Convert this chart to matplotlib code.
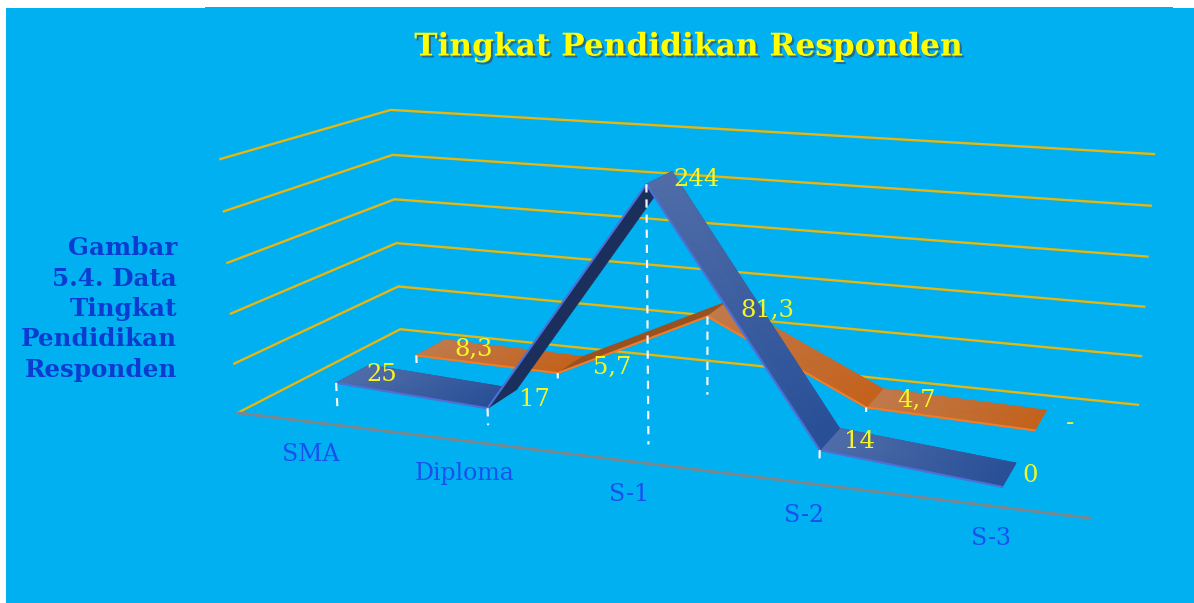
#!/usr/bin/env python3
"""Perspective ribbon chart of respondents by education level."""

import matplotlib
matplotlib.use("Agg")
import matplotlib.patheffects as pe
import matplotlib.pyplot as plt
import numpy as np
from matplotlib.colors import LinearSegmentedColormap
from matplotlib.patches import Polygon, Rectangle

W, H = 1194, 603

categories = ["SMA", "Diploma", "S-1", "S-2", "S-3"]
counts = [25, 17, 244, 14, 0]
count_labels = ["25", "17", "244", "14", "0"]
percents = [8.3, 5.7, 81.3, 4.7, 0]
percent_labels = ["8,3", "5,7", "81,3", "4,7", "-"]
grid_levels = [0, 50, 100, 150, 200, 250]

BG = "#00b0f0"
GRID = "#e8b60f"
YELLOW = "#f6f627"
BLUE_TEXT = "#0b3bd0"
CAT_TEXT = "#1a50f0"

# box corners (category, depth, value) and where they land on the canvas
CAMERA_WORLD = [(0, 0, 0), (0, 1, 0), (5, 1, 0), (5, 0, 0), (0, 0, 250), (0, 1, 250), (5, 1, 250)]
CAMERA_PIXEL = [(238, 413), (400, 329), (1138, 405), (1090, 518), (220, 159), (391, 110), (1154, 154)]


def fit_camera(world, pixel):
    rows = []
    for (x, y, z), (u, v) in zip(world, pixel):
        rows.append([x, y, z, 1, 0, 0, 0, 0, -u * x, -u * y, -u * z, -u])
        rows.append([0, 0, 0, 0, x, y, z, 1, -v * x, -v * y, -v * z, -v])
    _, _, vt = np.linalg.svd(np.array(rows, dtype=float))
    return vt[-1].reshape(3, 4)


CAM = fit_camera(CAMERA_WORLD, CAMERA_PIXEL)


def project(x, y, z):
    u, v, w = CAM @ np.array([x, y, z, 1.0])
    return u / w, v / w


def draw_ribbon(ax, values, labels, depth, light, dark, under, edge, offsets, z):
    cmap = LinearSegmentedColormap.from_list("ribbon", [light, dark])
    n = len(values)
    # the steep segment goes last so it covers its neighbours
    order = sorted(range(n - 1), key=lambda i: abs(values[i + 1] - values[i]))
    for i in order:
        f0 = project(i + 0.5, depth[0], values[i])
        f1 = project(i + 1.5, depth[0], values[i + 1])
        b0 = project(i + 0.5, depth[1], values[i])
        b1 = project(i + 1.5, depth[1], values[i + 1])
        quad = [f0, f1, b1, b0]
        if values[i + 1] > values[i]:
            ax.add_patch(Polygon(quad, closed=True, fc=under, ec=under, lw=0.5, zorder=z))
        else:
            xx = np.array([[f0[0], f1[0]], [b0[0], b1[0]]])
            yy = np.array([[f0[1], f1[1]], [b0[1], b1[1]]])
            cc = np.array([[0.0, 1.0], [0.0, 1.0]])
            ax.add_patch(Polygon(quad, closed=True, fc=dark, ec=dark, lw=0.5, zorder=z))
            ax.pcolormesh(xx, yy, cc, shading="gouraud", cmap=cmap, vmin=0, vmax=1, zorder=z)
        ax.plot([f0[0], f1[0]], [f0[1], f1[1]], color=edge, lw=1.5, zorder=z, solid_capstyle="round")

    for i, (v, txt) in enumerate(zip(values, labels)):
        top = project(i + 0.5, depth[0], v)
        base = project(i + 0.5, depth[0], 0)
        if v > 0:
            ax.plot([top[0], base[0]], [top[1], base[1]], color="#f2f6fa", lw=1.6,
                    dashes=(3.7, 3.1), zorder=z + 10)
        ax.annotate(txt, xy=top, xytext=offsets[i], textcoords="offset pixels",
                    ha="center", va="center", color=YELLOW, fontsize=17.5,
                    family="DejaVu Serif", zorder=30)


def main():
    fig = plt.figure(figsize=(W / 100, H / 100), dpi=100, facecolor="white")
    ax = fig.add_axes([0, 0, 1, 1])
    ax.set_xlim(0, W)
    ax.set_ylim(H, 0)
    ax.axis("off")

    ax.add_patch(Rectangle((6, 8), W - 6, H - 8, fc=BG, ec="none", zorder=0))
    ax.add_patch(Rectangle((205, 7), 968, 2, fc=BG, ec="none", zorder=0))

    # side wall + back wall lines
    for level in grid_levels:
        pts = [project(0, 0, level), project(0, 1, level), project(5, 1, level)]
        ax.plot(*zip(*pts), color=GRID, lw=1.7, zorder=1, solid_joinstyle="miter")
    ax.plot(*zip(project(0, 0, 0), project(5, 0, 0)), color="#7d868c", lw=2, zorder=1)

    draw_ribbon(ax, percents, percent_labels, (0.65, 0.85), "#c07a4c", "#c4621c", "#99521f",
                "#f47c24", [(57, 6), (54, 6), (60, 6), (50, 7), (35, 7)], z=3)
    draw_ribbon(ax, counts, count_labels, (0.15, 0.35), "#506da8", "#284f97", "#1b2f5c",
                "#4e6fd6", [(46, 8), (47, 9), (50, 5), (40, 9), (28, 11)], z=5)

    for i, name in enumerate(categories):
        ax.annotate(name, xy=project(i + 0.5, 0, 0), xytext=(0, -33), textcoords="offset pixels",
                    ha="center", va="center", color=CAT_TEXT, fontsize=17,
                    family="DejaVu Serif", zorder=30)

    title = ax.text(689, 47, "Tingkat Pendidikan Responden", ha="center", va="center",
                    color="#ffff00", fontsize=22.5, fontweight="bold", family="DejaVu Serif", zorder=30)
    title.set_path_effects([pe.withSimplePatchShadow(offset=(1.5, -1.5), shadow_rgbFace="#30506a", alpha=0.7)])

    ax.text(177, 309, "Gambar\n5.4. Data\nTingkat\nPendidikan\nResponden", ha="right", va="center",
            multialignment="right", color=BLUE_TEXT, fontsize=17.7, fontweight="bold",
            family="DejaVu Serif", linespacing=1.34, zorder=30)

    fig.savefig("out.png", dpi=100, facecolor=fig.get_facecolor())
    plt.close(fig)


if __name__ == "__main__":
    main()
